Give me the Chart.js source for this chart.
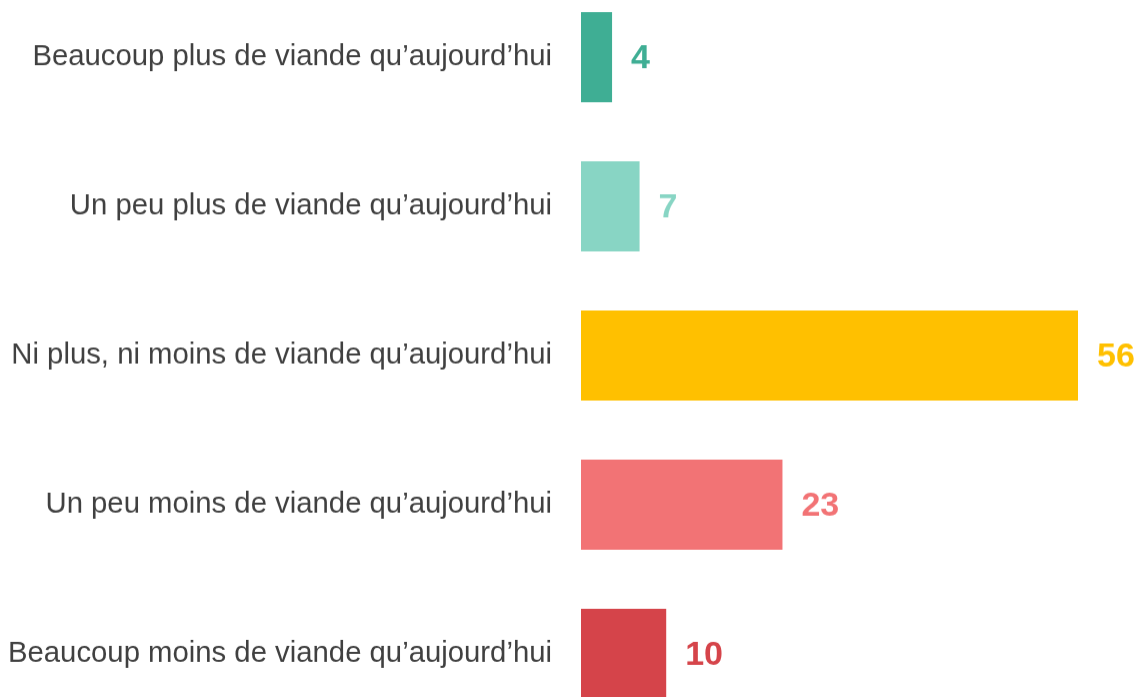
<!DOCTYPE html>
<html>
<head>
<meta charset="utf-8">
<script src="https://cdn.jsdelivr.net/npm/chart.js@4"></script>
<style>
    html, body { margin: 0; padding: 0; background: #fff; overflow: hidden; }
    /* chart area runs past the window edges, as in the original slide */
    #wrap { position: absolute; left: 0; top: -63.6px; width: 1138px; height: 838.2px; }
</style>
</head>
<body>
<div id="wrap"><canvas id="meatChart"></canvas></div>
<script>
const categories = [
    "Beaucoup plus de viande qu’aujourd’hui",
    "Un peu plus de viande qu’aujourd’hui",
    "Ni plus, ni moins de viande qu’aujourd’hui",
    "Un peu moins de viande qu’aujourd’hui",
    "Beaucoup moins de viande qu’aujourd’hui",
];
const values = [3.5, 6.6, 56, 22.7, 9.6];
const valueLabels = ["4", "7", "56", "23", "10"];
const barColors = ["#3FAE94", "#88D5C4", "#FFC000", "#F27375", "#D5444A"];

// draws the number right of each bar
const valueLabelPlugin = {
    id: "valueLabels",
    afterDatasetsDraw(chart) {
        const ctx = chart.ctx;
        const meta = chart.getDatasetMeta(0);
        ctx.save();
        ctx.font = "bold 34px 'Liberation Sans', Arial, sans-serif";
        ctx.textAlign = "left";
        ctx.textBaseline = "middle";
        meta.data.forEach((bar, i) => {
            ctx.fillStyle = barColors[i];
            ctx.fillText(valueLabels[i], bar.x + 19, bar.y + 2);
        });
        ctx.restore();
    },
};

new Chart(document.getElementById("meatChart"), {
    type: "bar",
    data: {
        labels: categories,
        datasets: [{
            data: values,
            backgroundColor: barColors,
            barPercentage: 0.604,
            categoryPercentage: 1,
        }],
    },
    options: {
        indexAxis: "y",
        responsive: true,
        maintainAspectRatio: false,
        animation: false,
        layout: { padding: { left: 0, right: 60, top: 0, bottom: 0 } },
        plugins: {
            legend: { display: false },
            tooltip: { enabled: false },
        },
        scales: {
            x: {
                display: false,
                min: 0,
                max: 56,
            },
            y: {
                grid: { display: false, drawTicks: false },
                border: { display: false },
                ticks: {
                    color: "#404040",
                    padding: 29,
                    font: { family: "'Liberation Sans', Arial, sans-serif", size: 29.3, lineHeight: 1.2 },
                },
                afterFit(scale) { scale.width = 581; },
            },
        },
    },
    plugins: [valueLabelPlugin],
});
</script>
</body>
</html>
